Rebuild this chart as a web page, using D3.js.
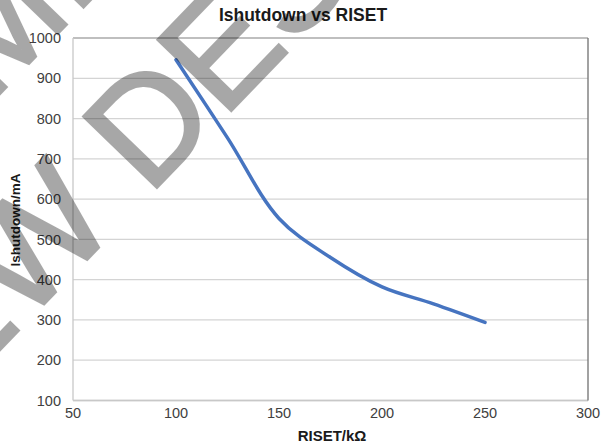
<!DOCTYPE html>
<html>
<head>
<meta charset="utf-8">
<script src="https://d3js.org/d3.v7.min.js"></script>
<style>
  body { margin: 0; background: #fff; }
  svg { display: block; }
</style>
</head>
<body>
<div id="chart"></div>
<script>
// values
let riset = [100, 125, 150, 175, 200, 225, 250];
let ishutdown = [946, 752, 552, 455, 382, 340, 294];
let xTicks = [50, 100, 150, 200, 250, 300];
let yTicks = [100, 200, 300, 400, 500, 600, 700, 800, 900, 1000];
let chartTitle = "Ishutdown vs RISET";
let xTitle = "RISET/kΩ";
let yTitle = "Ishutdown/mA";
let stampLines = ["NOT RECOMMENDED FOR", "NEW DESIGN"];

function mainChart() {
    let w = 610, h = 443;
    let margin = {top: 38, right: 22, bottom: 42.5, left: 73};
    let fontFam = "'Liberation Sans', Arial, sans-serif";

    let svg = d3.select("#chart")
                .append("svg")
                .attr("width", w)
                .attr("height", h);

    let x = d3.scaleLinear().domain([50, 300]).range([margin.left, w - margin.right]);
    let y = d3.scaleLinear().domain([100, 1000]).range([h - margin.bottom, margin.top]);

    // gridlines
    svg.append("g")
       .selectAll("line")
       .data(yTicks)
       .enter().append("line")
       .attr("x1", x(50))
       .attr("x2", x(300))
       .attr("y1", d => y(d))
       .attr("y2", d => y(d))
       .style("stroke", d => d == 1000 ? "#aaaaaa" : "#d4d4d4")
       .style("stroke-width", 1.3);

    // plot frame: left/bottom axis lines and the darker right edge
    svg.append("line")
       .attr("x1", x(50)).attr("x2", x(50))
       .attr("y1", y(1000)).attr("y2", y(100))
       .style("stroke", "#c8c8c8").style("stroke-width", 1.3);
    svg.append("line")
       .attr("x1", x(50)).attr("x2", x(300))
       .attr("y1", y(100)).attr("y2", y(100))
       .style("stroke", "#c8c8c8").style("stroke-width", 1.3);
    svg.append("line")
       .attr("x1", x(300)).attr("x2", x(300))
       .attr("y1", y(1000)).attr("y2", y(100))
       .style("stroke", "#707070").style("stroke-width", 1.3);

    // tick labels
    svg.append("g")
       .selectAll("text")
       .data(yTicks)
       .enter().append("text")
       .attr("x", margin.left - 12)
       .attr("y", d => y(d))
       .attr("dy", "0.36em")
       .attr("text-anchor", "end")
       .style("font", "14.5px " + fontFam)
       .style("fill", "#404040")
       .text(d => d);

    svg.append("g")
       .selectAll("text")
       .data(xTicks)
       .enter().append("text")
       .attr("x", d => x(d))
       .attr("y", 418)
       .attr("text-anchor", "middle")
       .style("font", "14.5px " + fontFam)
       .style("fill", "#404040")
       .text(d => d);

    // the series
    let pts = riset.map((d, i) => [d, ishutdown[i]]);
    let line = d3.line()
                 .x(d => x(d[0]))
                 .y(d => y(d[1]))
                 .curve(d3.curveCatmullRom.alpha(0.5));
    svg.append("path")
       .datum(pts)
       .attr("d", line)
       .style("fill", "none")
       .style("stroke", "#4674c0")
       .style("stroke-width", 3.5)
       .style("stroke-linecap", "round");

    // titles
    svg.append("text")
       .attr("x", 303)
       .attr("y", 21)
       .attr("text-anchor", "middle")
       .style("font", "bold 17.5px " + fontFam)
       .style("fill", "#1a1a1a")
       .text(chartTitle);

    svg.append("text")
       .attr("x", 332)
       .attr("y", 441)
       .attr("text-anchor", "middle")
       .style("font", "bold 15px " + fontFam)
       .style("fill", "#1a1a1a")
       .text(xTitle);

    svg.append("text")
       .attr("transform", "translate(20,220) rotate(-90)")
       .attr("text-anchor", "middle")
       .style("font", "bold 13.5px " + fontFam)
       .style("fill", "#1a1a1a")
       .text(yTitle);

    // diagonal stamp laid over the chart (thick strokes, see-through)
    let stamp = svg.append("g")
                   .attr("transform", "translate(-120,474) rotate(-46)")
                   .attr("opacity", 0.34)
                   .style("font", "148px " + fontFam)
                   .style("fill", "#000")
                   .style("stroke", "#000")
                   .style("stroke-width", 3)
                   .style("stroke-linejoin", "miter");
    stamp.append("text")
         .attr("x", -560)
         .attr("y", -178)
         .text(stampLines[0]);
    stamp.append("text")
         .attr("x", 0)
         .attr("y", 0)
         .text(stampLines[1]);
}

mainChart();
</script>
</body>
</html>
